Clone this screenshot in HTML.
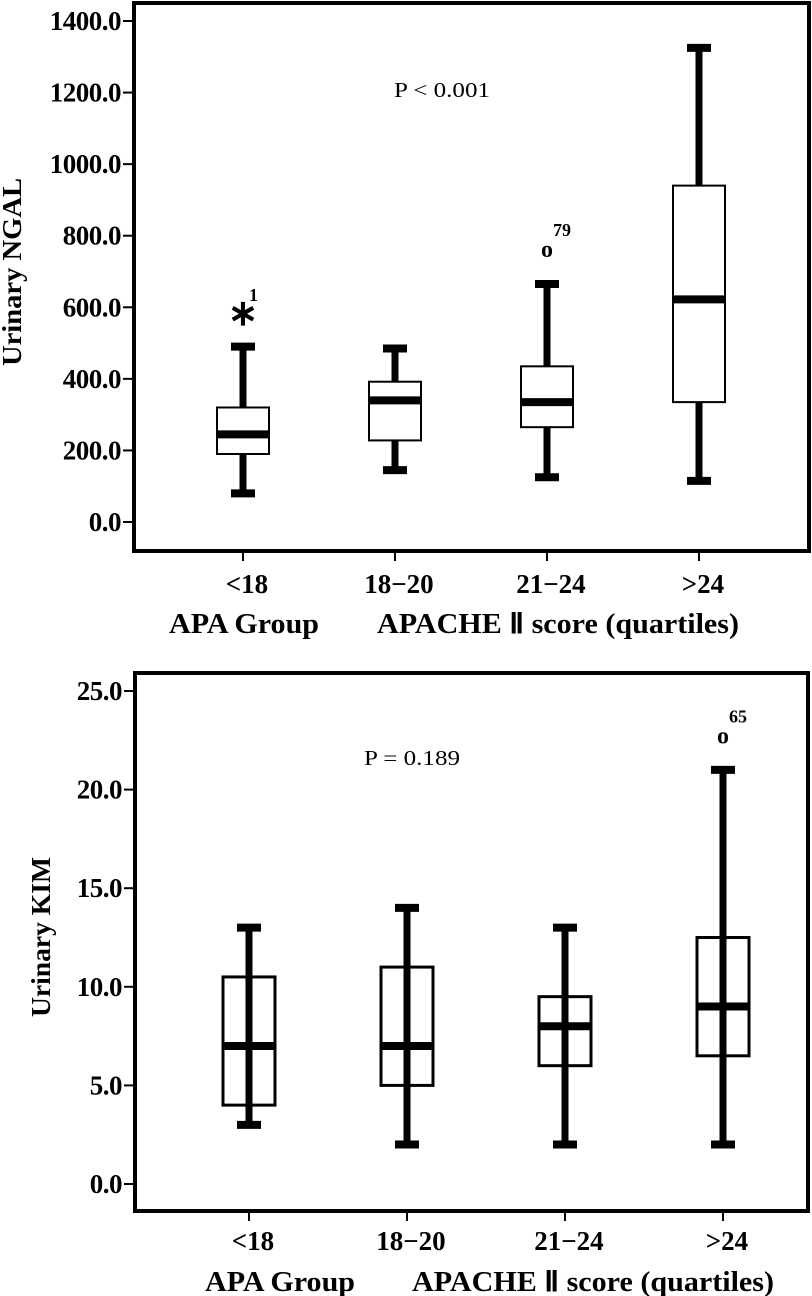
<!DOCTYPE html>
<html><head><meta charset="utf-8"><style>
html,body{margin:0;padding:0;background:#fff;}
svg{display:block;font-family:"Liberation Serif",serif;}
</style></head><body>
<svg id="svg" width="812" height="1296" viewBox="0 0 812 1296" xmlns="http://www.w3.org/2000/svg"></svg>
<script>
const categories = ["<18", "18-20", "21-24", ">24"];
const ngalLow = [80, 145, 125, 115];
const ngalQ1 = [190, 228, 265, 335];
const ngalMed = [245, 340, 335, 622];
const ngalQ3 = [320, 392, 435, 940];
const ngalHigh = [490, 485, 665, 1325];
const ngalOutliers = [{g:0, v:595, label:"1", sym:"*"}, {g:2, v:760, label:"79", sym:"o"}];
const ngalTicks = [0, 200, 400, 600, 800, 1000, 1200, 1400];

const kimLow = [3, 2, 2, 2];
const kimQ1 = [4, 5, 6, 6.5];
const kimMed = [7, 7, 8, 9];
const kimQ3 = [10.5, 11, 9.5, 12.5];
const kimHigh = [13, 14, 13, 21];
const kimOutliers = [{g:3, v:22.7, label:"65", sym:"o"}];
const kimTicks = [0, 5, 10, 15, 20, 25];

const svg = document.getElementById('svg');
const NS = "http://www.w3.org/2000/svg";
function mk(tag, attrs, parent){
  const e = document.createElementNS(NS, tag);
  for (const k in attrs) e.setAttribute(k, attrs[k]);
  (parent||svg).appendChild(e);
  return e;
}

function chart(cfg){
  const g = mk('g', {});
  
  
  const y = v => cfg.y0 - (v - cfg.vmin) / (cfg.vmax - cfg.vmin) * (cfg.y0 - cfg.y1);
  const x = i => cfg.x0 + i * cfg.dx;
  const frame = mk('rect', {x:cfg.fl, y:cfg.ft, width:cfg.fr-cfg.fl, height:cfg.fb-cfg.ft, fill:'none', stroke:'#000', 'stroke-width':4}, g);
  
  
  cfg.ticks.forEach(t => {
    const ln = mk('line', {x1:cfg.fl-11, x2:cfg.fl, y1:y(t), y2:y(t), stroke:'#000', 'stroke-width':2}, g);
    
    
    const tx = mk('text', {x:cfg.fl-13, y:y(t)+9, 'text-anchor':'end', 'font-size':27, 'font-weight':'bold', 'letter-spacing':-0.5}, g);
    tx.textContent = t.toFixed(1);
    
    
  });
  categories.forEach((c, i) => {
    const cx = x(i);
    const ln = mk('line', {x1:cx, x2:cx, y1:cfg.fb, y2:cfg.fb+10, stroke:'#000', 'stroke-width':2}, g);
    
    
    const tx = mk('text', {x:cx+4, y:cfg.xly, 'text-anchor':'middle', 'font-size':27, 'font-weight':'bold'}, g);
    tx.textContent = c.replace('-', '\u2212');
    
    
    const hw = 26, cw = 12;
    const bg = mk('g', {}, g);
    
    
    if (cfg.throughBox){
      mk('line', {x1:cx, x2:cx, y1:y(cfg.low[i]), y2:y(cfg.high[i]), stroke:'#000', 'stroke-width':7}, bg);
    } else {
      mk('line', {x1:cx, x2:cx, y1:y(cfg.low[i]), y2:y(cfg.q1[i]), stroke:'#000', 'stroke-width':7}, bg);
      mk('line', {x1:cx, x2:cx, y1:y(cfg.q3[i]), y2:y(cfg.high[i]), stroke:'#000', 'stroke-width':7}, bg);
    }
    mk('line', {x1:cx-cw, x2:cx+cw, y1:y(cfg.low[i]), y2:y(cfg.low[i]), stroke:'#000', 'stroke-width':8}, bg);
    mk('line', {x1:cx-cw, x2:cx+cw, y1:y(cfg.high[i]), y2:y(cfg.high[i]), stroke:'#000', 'stroke-width':8}, bg);
    mk('rect', {x:cx-hw, y:y(cfg.q3[i]), width:2*hw, height:y(cfg.q1[i])-y(cfg.q3[i]), fill:cfg.throughBox?'none':'#fff', stroke:'#000', 'stroke-width':cfg.boxSW}, bg);
    mk('line', {x1:cx-hw, x2:cx+hw, y1:y(cfg.med[i]), y2:y(cfg.med[i]), stroke:'#000', 'stroke-width':8}, bg);
  });
  cfg.outliers.forEach(o => {
    const cx = x(o.g);
    const t = mk('text', {x:cx, y:y(o.v)+ (o.sym==='*'?16:7), 'text-anchor':'middle', 'font-size':o.sym==='*'?36:24, 'font-weight':'bold'}, g);
    t.textContent = o.sym==='*' ? '\u2217' : o.sym;
    
    
    const l = mk('text', {x:cx+6, y:y(o.v)-(o.sym==='*'?8:14), 'font-size':18, 'font-weight':'bold'}, g);
    l.textContent = o.label;
    
    
  });
  const p = mk('text', {x:cfg.px, y:cfg.py, 'font-size':21, textLength:cfg.pw, lengthAdjust:'spacingAndGlyphs'}, g);
  p.textContent = cfg.ptext;
  
  
  const yt = mk('text', {x:0, y:0, transform:`translate(${cfg.ytx},${cfg.yty}) rotate(-90)`, 'text-anchor':'middle', 'font-size':27, 'font-weight':'bold', textLength:cfg.ytl, lengthAdjust:'spacingAndGlyphs'}, g);
  yt.textContent = cfg.ytitle;
  
  
  const a1 = mk('text', {x:cfg.apaX, y:cfg.titleY, 'font-size':28, 'font-weight':'bold', textLength:150, lengthAdjust:'spacingAndGlyphs'}, g);
  a1.textContent = 'APA Group';
  
  
  const a2 = mk('text', {x:cfg.apacheX, y:cfg.titleY, 'font-size':28, 'font-weight':'bold', textLength:362, lengthAdjust:'spacingAndGlyphs'}, g);
  a2.textContent = 'APACHE \u2161 score (quartiles)';
  
  
}

chart({name:'ngal-chart', fl:134, fr:809, ft:3, fb:551, y0:522, y1:21, vmin:0, vmax:1400,
  x0:243, dx:152, ticks:ngalTicks, low:ngalLow, q1:ngalQ1, med:ngalMed, q3:ngalQ3, high:ngalHigh,
  outliers:ngalOutliers, throughBox:false, boxSW:2, xly:593, titleY:633, apaX:169, apacheX:377,
  px:394, py:97, pw:96, ptext:'P < 0.001', ytx:21, yty:272, ytl:188, ytitle:'Urinary NGAL'});

chart({name:'kim-chart', fl:135, fr:808, ft:673, fb:1211, y0:1184, y1:691, vmin:0, vmax:25,
  x0:249, dx:158, ticks:kimTicks, low:kimLow, q1:kimQ1, med:kimMed, q3:kimQ3, high:kimHigh,
  outliers:kimOutliers, throughBox:true, boxSW:3, xly:1250, titleY:1291, apaX:205, apacheX:412,
  px:364, py:765, pw:96, ptext:'P = 0.189', ytx:50, yty:937, ytl:160, ytitle:'Urinary KIM'});
</script>
</body></html>
